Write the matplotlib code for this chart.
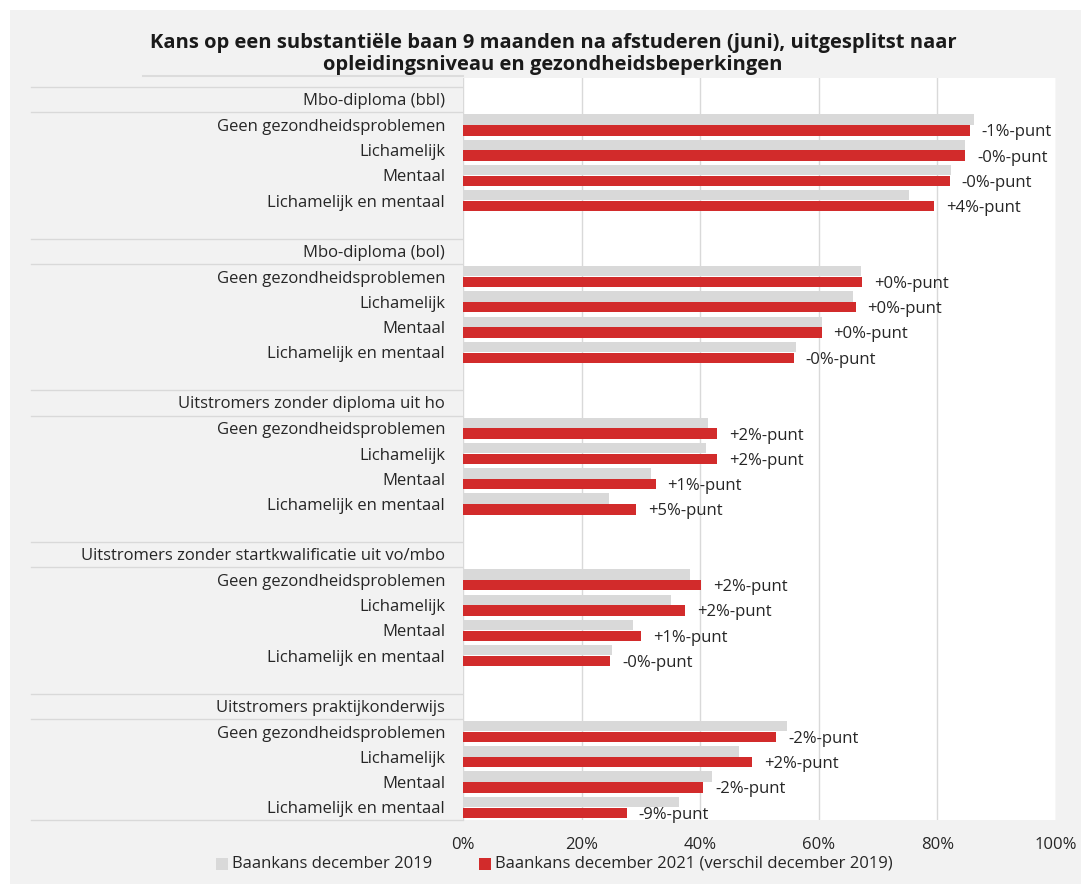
import matplotlib
matplotlib.use("Agg")
import matplotlib.pyplot as plt
from matplotlib.transforms import blended_transform_factory
from matplotlib.patches import Rectangle
from matplotlib.lines import Line2D

plt.rcParams['font.family'] = ['Open Sans', 'DejaVu Sans']

title = ("Kans op een substantiële baan 9 maanden na afstuderen (juni), uitgesplitst naar\n"
         "opleidingsniveau en gezondheidsbeperkingen")

groups = ["Mbo-diploma (bbl)", "Mbo-diploma (bol)", "Uitstromers zonder diploma uit ho",
          "Uitstromers zonder startkwalificatie uit vo/mbo", "Uitstromers praktijkonderwijs"]
subcats = ["Geen gezondheidsproblemen", "Lichamelijk", "Mentaal", "Lichamelijk en mentaal"]

dec2019 = [
    [86.2, 84.7, 82.3, 75.2],
    [67.2, 65.8, 60.5, 56.1],
    [41.3, 40.9, 31.7, 24.6],
    [38.2, 35.1, 28.7, 25.2],
    [54.7, 46.5, 42.0, 36.5],
]
dec2021 = [
    [85.5, 84.7, 82.1, 79.4],
    [67.3, 66.2, 60.5, 55.8],
    [42.8, 42.8, 32.5, 29.2],
    [40.1, 37.5, 30.1, 24.8],
    [52.8, 48.8, 40.5, 27.6],
]
diff_labels = [
    ["-1%-punt", "-0%-punt", "-0%-punt", "+4%-punt"],
    ["+0%-punt", "+0%-punt", "+0%-punt", "-0%-punt"],
    ["+2%-punt", "+2%-punt", "+1%-punt", "+5%-punt"],
    ["+2%-punt", "+2%-punt", "+1%-punt", "-0%-punt"],
    ["-2%-punt", "+2%-punt", "-2%-punt", "-9%-punt"],
]
xticks = [0, 20, 40, 60, 80, 100]
xticklabels = ["0%", "20%", "40%", "60%", "80%", "100%"]
legend_labels = ["Baankans december 2019", "Baankans december 2021 (verschil december 2019)"]

GRAY = "#d9d9d9"
RED = "#d22b2b"
BG = "#f2f2f2"
TXT = "#262626"
FS = 12

W, H = 1081, 885
fig = plt.figure(figsize=(W / 100, H / 100), dpi=100, facecolor="white")

def fx(px):
    return px / W

def fy(py):
    return 1 - py / H

# background panel
fig.patches.append(Rectangle((fx(10), fy(884)), fx(1081) - fx(10), fy(10) - fy(884),
                             transform=fig.transFigure, facecolor=BG, edgecolor="none", zorder=-5))

ax_left, ax_right, ax_top, ax_bot = 463, 1056, 78, 820
ax = fig.add_axes([fx(ax_left), fy(ax_bot), fx(ax_right) - fx(ax_left), fy(ax_top) - fy(ax_bot)])
ax.set_zorder(2)
ax.set_facecolor("white")
ax.set_xlim(0, 100)
row_h = 25.25
top_row = -0.5 - (87 - ax_top) / row_h
ax.set_ylim(28.5, top_row)
for s in ax.spines.values():
    s.set_visible(False)
ax.set_yticks([])
ax.set_xticks(xticks)
ax.set_xticklabels(xticklabels, fontsize=FS, color=TXT)
ax.tick_params(axis="x", length=0, pad=12)
ax.set_axisbelow(True)
ax.grid(axis="x", color=GRAY, lw=1)

bh = 0.41
trans_lab = blended_transform_factory(fig.transFigure, ax.transData)
for g, gname in enumerate(groups):
    hrow = g * 6
    t = fig.text(fx(445), 0, gname, transform=trans_lab, ha="right", va="center",
                 fontsize=FS, color=TXT)
    t.set_y(hrow + 0.05)
    for yb in (hrow - 0.5, hrow + 0.5):
        fig.add_artist(Line2D([fx(31), fx(463)], [yb, yb], transform=trans_lab,
                              color="#d9d9d9", lw=1))
    for k, sub in enumerate(subcats):
        r = hrow + 1 + k
        ax.barh(r - 0.215, dec2019[g][k], height=bh, color=GRAY, zorder=2)
        ax.barh(r + 0.215, dec2021[g][k], height=bh, color=RED, zorder=3)
        t = fig.text(fx(445), 0, sub, transform=trans_lab, ha="right", va="center",
                     fontsize=FS, color=TXT)
        t.set_y(r + 0.08)
        ax.text(dec2021[g][k] + 2.0, r + 0.29, diff_labels[g][k], ha="left", va="center",
                fontsize=FS, color=TXT, clip_on=False)

fig.add_artist(Line2D([fx(31), fx(463)], [28.5, 28.5], transform=trans_lab, color="#d9d9d9", lw=1))
# line under title
fig.add_artist(Line2D([fx(143), fx(463)], [fy(76), fy(76)], transform=fig.transFigure,
                      color="#dcdcdc", lw=1.5))

fig.text(fx(553), fy(54), title, ha="center", va="center", fontsize=14.5, fontweight="bold",
         color="#1a1a1a", linespacing=1.15)

# legend
ly = fy(864)
fig.patches.append(Rectangle((fx(216), ly - 6 / H), 12 / W, 12 / H, transform=fig.transFigure,
                             facecolor=GRAY, edgecolor="none"))
fig.text(fx(232), ly, legend_labels[0], ha="left", va="center", fontsize=FS, color=TXT)
fig.patches.append(Rectangle((fx(479), ly - 6 / H), 12 / W, 12 / H, transform=fig.transFigure,
                             facecolor=RED, edgecolor="none"))
fig.text(fx(495), ly, legend_labels[1], ha="left", va="center", fontsize=FS, color=TXT)

fig.savefig("out.png", dpi=100, facecolor="white")
